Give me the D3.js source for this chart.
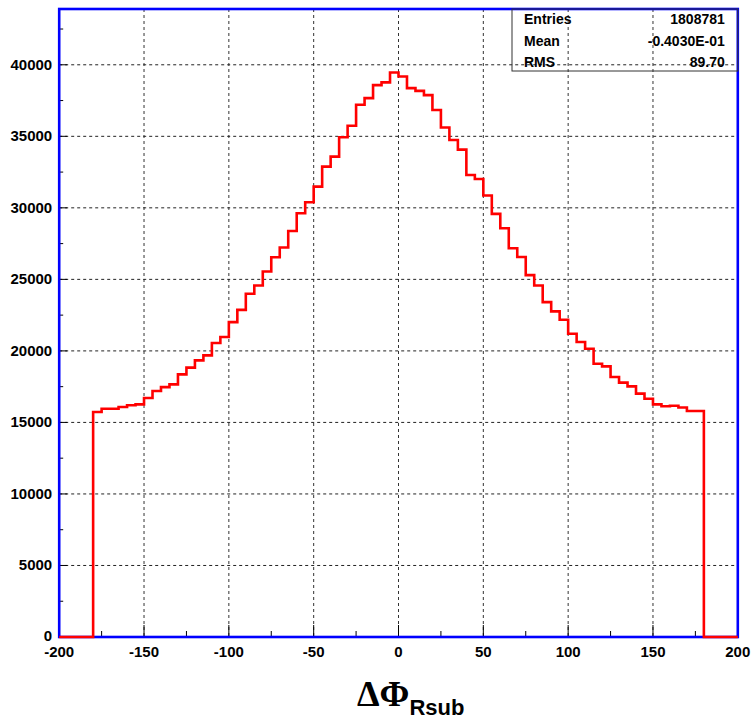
<!DOCTYPE html>
<html>
<head>
<meta charset="utf-8">
<script src="https://cdn.jsdelivr.net/npm/d3@7"></script>
<style>
  html, body { margin: 0; padding: 0; background: #fff; }
  svg { display: block; }
</style>
</head>
<body>
<script>
// ---- data ----
const binLow = [
  -200,-195,-190,-185,-180,-175,-170,-165,-160,-155,-150,-145,-140,-135,-130,-125,-120,-115,-110,-105,
  -100,-95,-90,-85,-80,-75,-70,-65,-60,-55,-50,-45,-40,-35,-30,-25,-20,-15,-10,-5,
  0,5,10,15,20,25,30,35,40,45,50,55,60,65,70,75,80,85,90,95,
  100,105,110,115,120,125,130,135,140,145,150,155,160,165,170,175,180,185,190,195
];
const binHigh = 200;
const counts = [
  0,0,0,0,15730,15960,15960,16080,16200,16260,16710,17200,17470,17660,18360,18830,19340,19690,20550,20970,
  22010,22870,23990,24570,25550,26550,27230,28380,29620,30390,31480,32880,33580,34930,35740,37210,37670,38580,38770,39460,
  39180,38370,38180,37880,36840,35620,34740,34070,32300,32020,30860,29580,28570,27180,26560,25300,24570,23410,22760,22180,
  21200,20620,20150,19100,18920,18170,17780,17520,17010,16660,16260,16130,16170,16040,15800,15800,0,0,0,0
];
const xTicks = [-200,-150,-100,-50,0,50,100,150,200];
const xMinorTicks = [-175,-125,-75,-25,25,75,125,175];
const yTicks = [0,5000,10000,15000,20000,25000,30000,35000,40000];
const yMinorTicks = [2500,7500,12500,17500,22500,27500,32500,37500,42500];
const statLabels = ["Entries","Mean","RMS"];
const statValues = ["1808781","-0.4030E-01","89.70"];
const xDomain = [-200, 200];
const yDomain = [0, 43900];

// ---- layout ----
const W = 754, H = 720;
const fL = 59.2, fR = 737.8, fT = 9, fB = 637;

const svg = d3.select("body").append("svg").attr("width", W).attr("height", H);

const x = d3.scaleLinear().domain(xDomain).range([fL, fR]);
const y = d3.scaleLinear().domain(yDomain).range([fB, fT]);

const font = "'Liberation Sans', Arial, Helvetica, sans-serif";

// grid
const grid = svg.append("g");
grid.selectAll("line.vg").data(xTicks.filter(d => d > xDomain[0] && d < xDomain[1])).join("line")
  .attr("x1", d => x(d)).attr("x2", d => x(d)).attr("y1", fT).attr("y2", fB)
  .attr("stroke", "#333").attr("stroke-width", 1).attr("stroke-dasharray", "3,3");
grid.selectAll("line.hg").data(yTicks.filter(d => d > 0)).join("line")
  .attr("x1", fL).attr("x2", fR).attr("y1", d => y(d)).attr("y2", d => y(d))
  .attr("stroke", "#222").attr("stroke-width", 1).attr("stroke-dasharray", "3,3");

// ticks (inside frame)
const ticks = svg.append("g").attr("stroke", "#000").attr("stroke-width", 1);
ticks.selectAll("line.xt").data(xTicks).join("line")
  .attr("x1", d => x(d)).attr("x2", d => x(d)).attr("y1", fB).attr("y2", fB - 12);
ticks.selectAll("line.xm").data(xMinorTicks).join("line")
  .attr("x1", d => x(d)).attr("x2", d => x(d)).attr("y1", fB).attr("y2", fB - 6);
ticks.selectAll("line.yt").data(yTicks).join("line")
  .attr("x1", fL).attr("x2", fL + 8).attr("y1", d => y(d)).attr("y2", d => y(d));
ticks.selectAll("line.ym").data(yMinorTicks).join("line")
  .attr("x1", fL).attr("x2", fL + 4).attr("y1", d => y(d)).attr("y2", d => y(d));

// tick labels
svg.append("g").selectAll("text").data(xTicks).join("text")
  .attr("x", d => x(d)).attr("y", fB + 20)
  .attr("text-anchor", "middle")
  .attr("font-family", font).attr("font-weight", "bold").attr("font-size", 15)
  .attr("fill", "#000")
  .text(d => d);
svg.append("g").selectAll("text").data(yTicks).join("text")
  .attr("x", fL - 7).attr("y", d => y(d) + (d === 0 ? 3.5 : 5))
  .attr("text-anchor", "end")
  .attr("font-family", font).attr("font-weight", "bold").attr("font-size", 15)
  .attr("fill", "#000")
  .text(d => d);

// frame
svg.append("rect")
  .attr("x", fL).attr("y", fT).attr("width", fR - fL).attr("height", fB - fT)
  .attr("fill", "none").attr("stroke", "#0000ff").attr("stroke-width", 2.6);

// histogram
const pts = binLow.map((b, i) => [b, counts[i]]);
pts.push([binHigh, counts[counts.length - 1]]);
const line = d3.line().x(d => x(d[0])).y(d => y(d[1])).curve(d3.curveStepAfter);
svg.append("path")
  .attr("d", line(pts))
  .attr("fill", "none").attr("stroke", "#ff0000").attr("stroke-width", 2.6)
  .attr("stroke-linejoin", "miter");

// stats box
const bx = 512, by = fT, bw = fR - bx, bh = 62;
svg.append("rect")
  .attr("x", bx).attr("y", by).attr("width", bw).attr("height", bh)
  .attr("fill", "none").attr("stroke", "#333").attr("stroke-width", 1);
const rowY = [24, 45.5, 67];
const sg = svg.append("g").attr("font-family", font).attr("font-weight", "bold").attr("font-size", 14).attr("fill", "#000");
sg.selectAll("text.l").data(statLabels).join("text")
  .attr("x", bx + 12).attr("y", (d, i) => rowY[i]).text(d => d);
sg.selectAll("text.v").data(statValues).join("text")
  .attr("x", fR - 13).attr("y", (d, i) => rowY[i]).attr("text-anchor", "end").text(d => d);

// axis title
const t = svg.append("text").attr("x", 357).attr("y", 706).attr("fill", "#000");
t.append("tspan").attr("font-family", "'Liberation Serif', 'Times New Roman', serif")
  .attr("font-weight", "bold").attr("font-size", 36).text("ΔΦ");
t.append("tspan").attr("font-family", font).attr("font-weight", "bold")
  .attr("font-size", 22).attr("dy", 9).text("Rsub");
</script>
</body>
</html>
